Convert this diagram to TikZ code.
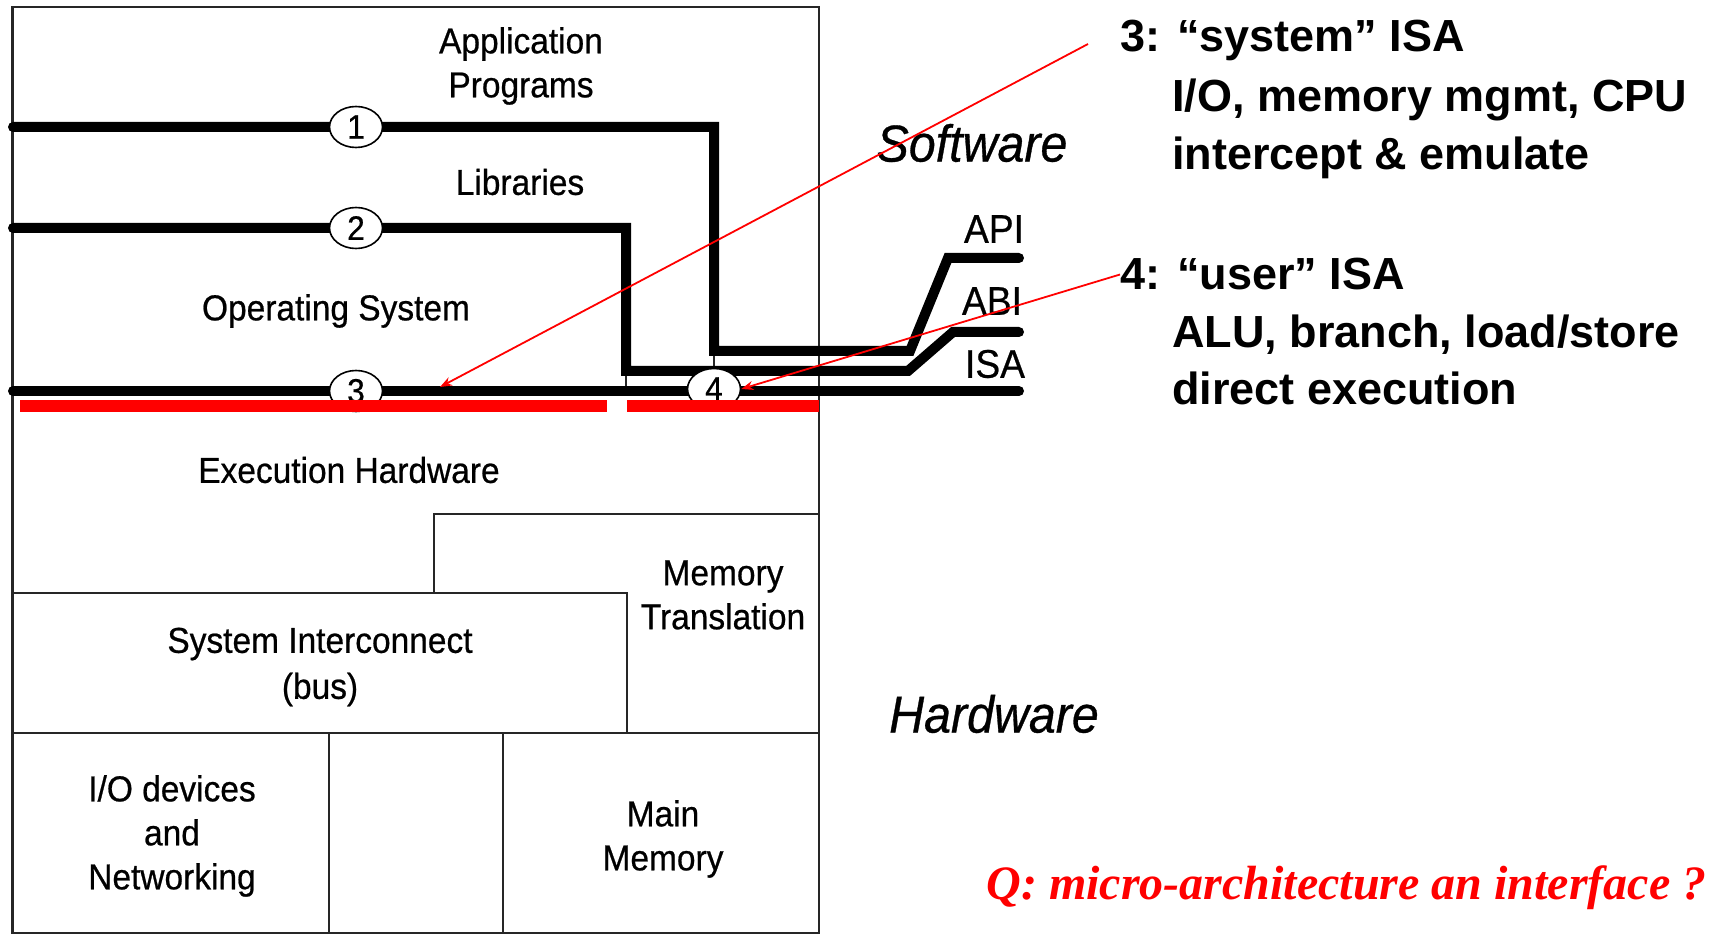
\documentclass[tikz,border=0pt]{standalone}
\usepackage{fontspec}
\setmainfont{Liberation Sans}
\newfontfamily\diagfont[FakeStretch=0.93,FakeBold=0.6]{Liberation Sans}
\newfontfamily\sidefont{Liberation Sans}
\newfontfamily\qfont{Liberation Serif}
\usetikzlibrary{shapes.geometric,arrows.meta}
\definecolor{pred}{RGB}{255,0,0}
\begin{document}
\begin{tikzpicture}[x=0.5pt,y=-0.5pt,
  thin box/.style={line width=1.1pt, draw=black!85},
  iface/.style={line width=5pt, line cap=round, line join=miter, draw=black},
  lbl/.style={inner sep=0pt, align=center, font=\diagfont\fontsize{18}{22}\selectfont},
  big/.style={inner sep=0pt, font=\diagfont\itshape\fontsize{26}{30}\selectfont},
  abi/.style={inner sep=0pt, font=\diagfont\fontsize{20}{24}\selectfont},
  num/.style={ellipse, draw=black, fill=white, line width=0.8pt, minimum width=26.5pt, minimum height=20.5pt, inner sep=0pt, font=\diagfont\fontsize{17}{17}\selectfont},
  side/.style={inner sep=0pt, anchor=base west, font=\sidefont\bfseries\fontsize{22.5}{28}\selectfont},
  redbar/.style={fill=pred, draw=none},
  redarrow/.style={draw=pred, line width=0.9pt, -{Stealth[length=6pt,width=4.5pt]}}
]
\useasboundingbox (0,0) rectangle (1710,936);

% outer box and inner partitions
\draw[thin box] (12.5,7) rectangle (819,933);
\draw[thin box] (434,593) -- (434,514) -- (819,514);
\draw[thin box] (12.5,593) -- (627,593) -- (627,733);
\draw[thin box] (12.5,733) -- (819,733);
\draw[thin box] (329,733) -- (329,933);
\draw[thin box] (503,733) -- (503,933);
\draw[thin box] (714,351) -- (714,391);
\draw[thin box] (626,371) -- (626,391);

% interface lines
\draw[iface] (13,127) -- (714,127) -- (714,351) -- (910,351) -- (948,258) -- (1019,258);
\draw[iface] (13,228) -- (626,228) -- (626,371) -- (908,371) -- (953,332) -- (1019,332);
\draw[iface] (13,391) -- (1019,391);

% numbered circles
\node[num] (c1) at (356,127) {1};
\node[num] (c2) at (356,228) {2};
\node[num] (c3) at (356,391) {3};
\node[num] (c4) at (714,389) {4};

% red bars
\fill[redbar] (20,400) rectangle (607,412);
\fill[redbar] (627,400) rectangle (819,412);

% layer labels
\node[lbl] (app) at (521,66) {Application\\Programs};
\node[lbl] (lib) at (520,182) {Libraries};
\node[lbl] (os) at (336,311) {Operating System};
\node[lbl] (exe) at (349,470) {Execution Hardware};
\node[lbl] (mt) at (723,595) {Memory\\Translation};
\node[lbl, font=\diagfont\fontsize{18}{23}\selectfont] (si) at (320,667) {System Interconnect\\(bus)};
\node[lbl] (io) at (172,836) {I/O devices\\and\\Networking};
\node[lbl] (mm) at (663,839) {Main\\Memory};

% API / ABI / ISA
\node[abi] (api) at (994,229) {API};
\node[abi] (abi) at (992,301) {ABI};
\node[abi] (isa) at (995,364) {ISA};

% Software / Hardware
\node[big] (sw) at (972,143) {Software};
\node[big] (hw) at (994,714) {Hardware};

% right side text
\node[side] (t3) at (1120,52) {3: “system” ISA};
\node[side] (t3b) at (1172,112) {I/O, memory mgmt, CPU};
\node[side] (t3c) at (1172,170) {intercept \& emulate};
\node[side] (t4) at (1120,290) {4: “user” ISA};
\node[side] (t4b) at (1172,348) {ALU, branch, load/store};
\node[side] (t4c) at (1172,405) {direct execution};

% red arrows
\coordinate (a3s) at (1088,44);
\coordinate (a3e) at (440,387);
\draw[redarrow] (a3s) -- (a3e);
\draw[redarrow] (t4.west) -- (c4.east);

% question
\node[inner sep=0pt, anchor=base west, text=pred, font=\qfont\bfseries\itshape\fontsize{24}{28}\selectfont] (q) at (986,899) {Q: micro-architecture an interface ?};
\end{tikzpicture}
\end{document}
